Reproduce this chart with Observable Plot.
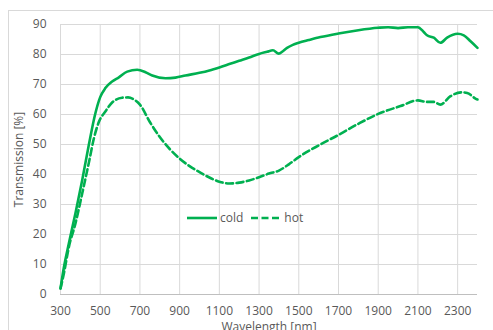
<!DOCTYPE html>
<html>
<head>
<meta charset="utf-8">
<script src="https://cdn.jsdelivr.net/npm/d3@7"></script>
<script src="https://cdn.jsdelivr.net/npm/@observablehq/plot@0.6"></script>
<style>
  html, body { margin: 0; padding: 0; background: #fff; overflow: hidden; }
  #wrap { position: relative; width: 493px; height: 330px; font-family: "Open Sans", sans-serif; }
  #frame { position: absolute; left: 8px; top: 10px; width: 500px; height: 340px; border: 1px solid #d9d9d9; box-sizing: border-box; }
  #chart { position: absolute; left: 0; top: 0; }
  #legend { position: absolute; left: 187px; top: 209px; font-size: 12px; color: #595959; display: flex; align-items: center; white-space: nowrap; }
  #legend svg { display: block; }
</style>
</head>
<body>
<div id="wrap">
  <div id="frame"></div>
  <div id="chart"></div>
  <div id="legend"></div>
</div>
<script>
const seriesNames = ["cold", "hot"];
const coldNm = [300, 317, 342, 375, 409, 443, 476, 500, 526, 560, 594, 636, 686, 728, 762, 829, 879, 929, 1000, 1050, 1100, 1150, 1200, 1250, 1300, 1340, 1370, 1399, 1420, 1441, 1470, 1500, 1550, 1609, 1700, 1800, 1900, 1950, 2000, 2050, 2100, 2129, 2146, 2180, 2213, 2247, 2300, 2331, 2365, 2400];
const coldT  = [2, 9, 17, 27, 38, 50, 60.5, 65.8, 68.8, 71, 72.4, 74.3, 74.9, 74.1, 73, 72.1, 72.3, 73, 73.9, 74.7, 75.7, 76.8, 77.9, 79, 80.2, 80.9, 81.4, 80.3, 81.1, 82.2, 83.2, 83.9, 84.8, 85.8, 87, 88.1, 88.9, 89.1, 88.8, 89.1, 89.1, 87.5, 86.4, 85.6, 83.9, 85.6, 86.9, 86.4, 84.4, 82.2];
const hotNm = [300, 317, 342, 375, 409, 443, 468, 493, 526, 560, 610, 640, 670, 700, 750, 800, 850, 900, 950, 1000, 1050, 1100, 1150, 1200, 1250, 1300, 1350, 1400, 1450, 1500, 1600, 1700, 1800, 1900, 2012, 2100, 2146, 2180, 2213, 2264, 2322, 2348, 2390, 2400];
const hotT  = [2, 7, 15.8, 23.6, 33.6, 44, 52, 57.5, 61, 64, 65.6, 65.7, 65, 63.3, 57.5, 52.5, 48.5, 45.3, 42.8, 40.8, 39, 37.6, 37, 37.3, 38, 39.1, 40.3, 41.3, 43.4, 45.8, 49.7, 53.2, 56.9, 60.2, 62.8, 64.7, 64.2, 64.2, 63.3, 66.1, 67.4, 67.2, 65.3, 65];
const xTicks = [300, 500, 700, 900, 1100, 1300, 1500, 1700, 1900, 2100, 2300];
const yTicks = [0, 10, 20, 30, 40, 50, 60, 70, 80, 90];
const xLabel = "Wavelength [nm]";
const yLabel = "Transmission [%]";

const green = "#00b050";
const cold = coldNm.map((x, i) => ({x, y: coldT[i]}));
const hot = hotNm.map((x, i) => ({x, y: hotT[i]}));

const chart = Plot.plot({
  width: 493,
  height: 330,
  marginLeft: 60,
  marginRight: 16,
  marginTop: 24,
  marginBottom: 36,
  style: {fontFamily: "'Open Sans', sans-serif", fontSize: "12px", color: "#595959", background: "transparent", overflow: "visible"},
  x: {domain: [300, 2400]},
  y: {domain: [0, 90]},
  marks: [
    Plot.gridX(xTicks, {stroke: "#d9d9d9", strokeOpacity: 1, strokeWidth: 1}),
    Plot.gridY(yTicks.filter(d => d > 0), {stroke: "#d9d9d9", strokeOpacity: 1, strokeWidth: 1}),
    Plot.ruleY([0], {stroke: "#bfbfbf", strokeWidth: 1}),
    Plot.axisX({ticks: xTicks, tickFormat: d => String(d), tickSize: 0, tickPadding: 12, fill: "#595959", label: xLabel, labelAnchor: "center", labelArrow: "none", labelOffset: 36}),
    Plot.axisY({ticks: yTicks, tickFormat: d => String(d), tickSize: 0, tickPadding: 14, fill: "#595959", label: yLabel, labelAnchor: "center", labelArrow: "none", labelOffset: 46}),
    Plot.line(cold, {x: "x", y: "y", stroke: green, strokeWidth: 2.6, curve: "monotone-x"}),
    Plot.line(hot, {x: "x", y: "y", stroke: green, strokeWidth: 2.6, strokeDasharray: "7,3.5", curve: "monotone-x"})
  ]
});
document.getElementById("chart").appendChild(chart);

const legend = document.getElementById("legend");
seriesNames.forEach((name, i) => {
  const sw = document.createElementNS("http://www.w3.org/2000/svg", "svg");
  sw.setAttribute("width", 30);
  sw.setAttribute("height", 10);
  sw.style.marginLeft = i === 0 ? "0px" : "8px";
  sw.style.marginRight = "3px";
  const ln = document.createElementNS("http://www.w3.org/2000/svg", "line");
  ln.setAttribute("x1", 0); ln.setAttribute("x2", 30);
  ln.setAttribute("y1", 5); ln.setAttribute("y2", 5);
  ln.setAttribute("stroke", green);
  ln.setAttribute("stroke-width", 2.6);
  if (i === 1) ln.setAttribute("stroke-dasharray", "7,3.5");
  sw.appendChild(ln);
  legend.appendChild(sw);
  const sp = document.createElement("span");
  sp.textContent = name;
  legend.appendChild(sp);
});
</script>
</body>
</html>
